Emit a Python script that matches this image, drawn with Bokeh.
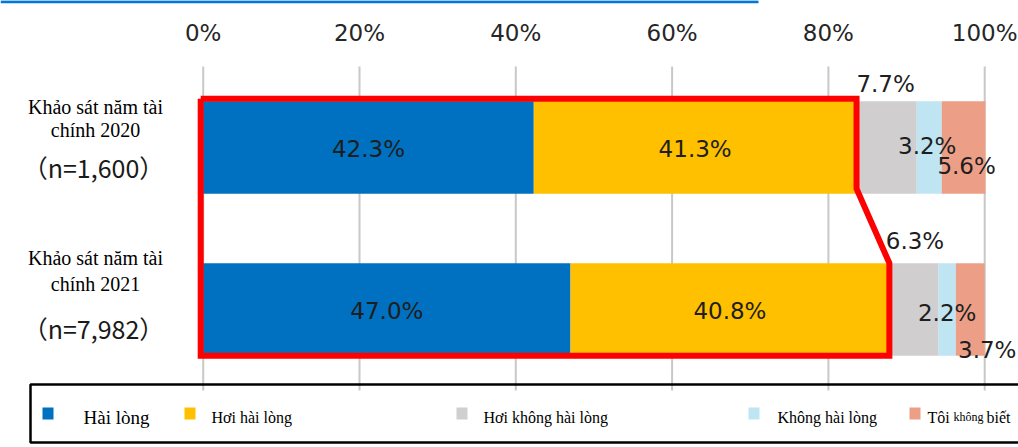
from bokeh.plotting import figure
from bokeh.models import Range1d, ColumnDataSource
from bokeh.core.properties import value
from bokeh.embed import file_html
from bokeh.resources import INLINE

# ---------------- data ----------------
series = ["Hài lòng", "Hơi hài lòng", "Hơi không hài lòng", "Không hài lòng", "Tôi không biết"]
colors = ["#0070C0", "#FFC000", "#D0CECE", "#BFE5F3", "#EC9E87"]
survey_2020 = [42.3, 41.3, 7.7, 3.2, 5.6]
survey_2021 = [47.0, 40.8, 6.3, 2.2, 3.7]
row_values = [survey_2020, survey_2021]
category_lines = [["Khảo sát năm tài", "chính 2020"], ["Khảo sát năm tài", "chính 2021"]]
sample_sizes = ["（n=1,600）", "（n=7,982）"]
tick_values = [0, 20, 40, 60, 80, 100]
tick_labels = ["0%", "20%", "40%", "60%", "80%", "100%"]
row_y = [1, 0]

# ---------------- layout helpers (pixel <-> data) ----------------
W, H = 1018, 447
X0PX, PPX = 202.7, 7.815      # pixel of 0 %, pixels per %
PPY = 162.0                   # pixels per row unit
Y_TOP = 1 + 146.9 / PPY       # data y at top of canvas
BAR_H = 92.5 / PPY

def xpx(px):
    return (px - X0PX) / PPX

def ypx(px):
    return Y_TOP - px / PPY

p = figure(width=W, height=H, output_backend="svg", toolbar_location=None,
           x_range=Range1d(xpx(0), xpx(W)), y_range=Range1d(ypx(H), ypx(0)),
           x_axis_location=None, y_axis_location=None, min_border=0)
p.outline_line_color = None
p.grid.visible = False
p.background_fill_color = "white"
p.border_fill_color = "white"

# top blue rule
p.segment(x0=[xpx(0)], x1=[xpx(758)], y0=[ypx(1.2)], y1=[ypx(1.2)],
          line_color="#0078D7", line_width=3)

# gridlines (from tick values)
p.segment(x0=tick_values, x1=tick_values, y0=[ypx(66)] * len(tick_values),
          y1=[ypx(390)] * len(tick_values), line_color="#C8C8C8", line_width=2)

# tick labels
p.text(x=tick_values, y=[ypx(32)] * len(tick_values), text=tick_labels,
       text_font=value("DejaVu Sans"), text_font_size="23px", text_color="#262626",
       text_align="center", text_baseline="middle")

# stacked bars
src = {"y": row_y}
for i, s in enumerate(series):
    src[s] = [row[i] for row in row_values]
p.hbar_stack(series, y="y", height=BAR_H, color=colors, line_color=None,
             source=ColumnDataSource(src))

# value labels (offsets in screen px)
label_dx = [[0, 0, -1, -2, 3], [0, 0, 1, 0, 17]]
label_dy = [[2, 2, -63, -1, 19], [2, 2, -68, 4, 41]]
lx, ly, lt, ox, oy = [], [], [], [], []
for r, vals in enumerate(row_values):
    left = 0.0
    for i, v in enumerate(vals):
        lx.append(left + v / 2)
        ly.append(row_y[r])
        lt.append(f"{v:.1f}%")
        ox.append(label_dx[r][i])
        oy.append(label_dy[r][i])
        left += v
p.text(x="x", y="y", text="t", x_offset="ox", y_offset="oy",
       source=ColumnDataSource(dict(x=lx, y=ly, t=lt, ox=ox, oy=oy)),
       text_font=value("DejaVu Sans"), text_font_size="23px", text_color="#1E1E1E",
       text_align="center", text_baseline="middle")

# red highlight outline around the first two segments
top_cum = survey_2020[0] + survey_2020[1]
bot_cum = survey_2021[0] + survey_2021[1]
y_top_bar_top = row_y[0] + BAR_H / 2
y_top_bar_bot = row_y[0] - BAR_H / 2
y_bot_bar_top = row_y[1] + BAR_H / 2
y_bot_bar_bot = row_y[1] - BAR_H / 2
pad_y = 2.5 / PPY
pad_x = 2.5 / PPX
ox_ = [-pad_x, top_cum, top_cum, bot_cum, bot_cum, -pad_x, -pad_x]
oy_ = [y_top_bar_top + pad_y, y_top_bar_top + pad_y, y_top_bar_bot + 5 / PPY,
       y_bot_bar_top, y_bot_bar_bot, y_bot_bar_bot, y_top_bar_top + pad_y]
p.line(ox_, oy_, line_color="#FF0000", line_width=6, line_join="miter")

# category labels
cat_offsets = [[-40, -17, 20], [-51, -25, 19]]
for r in range(2):
    yc_px = 146.9 + (row_y[0] - row_y[r]) * PPY
    for k, line in enumerate(category_lines[r]):
        p.text(x=[xpx(95)], y=[ypx(yc_px + cat_offsets[r][k])], text=[line],
               text_font=value("Liberation Serif"), text_font_size="20px",
               text_color="black", text_align="center", text_baseline="middle")
    p.text(x=[xpx(93)], y=[ypx(yc_px + cat_offsets[r][2])], text=[sample_sizes[r]],
           text_font=value("Noto Sans CJK JP"), text_font_size="25px",
           text_color="#1A1A1A", text_align="center", text_baseline="middle")

# legend box
p.quad(left=[xpx(30)], right=[xpx(1040)], top=[ypx(384)], bottom=[ypx(442)],
       fill_color=None, line_color="black", line_width=2.5)

leg_sq_x = [47.5, 189.5, 461.5, 753.5, 914.5]
leg_tx_x = [83, 211, 483, 777, 927]
leg_sizes = ["19px", "16px", "16px", "16px", "16px"]
p.rect(x=[xpx(v) for v in leg_sq_x], y=[ypx(413)] * 5, width=11, height=12,
       width_units="screen", height_units="screen", fill_color=colors, line_color=None)
for i, s in enumerate(series[:4]):
    p.text(x=[xpx(leg_tx_x[i])], y=[ypx(416.5)], text=[s],
           text_font=value("Liberation Serif"), text_font_size=leg_sizes[i],
           text_color="black", text_align="left", text_baseline="alphabetic")
# last legend label has mixed font sizes
last_parts = series[4].split(" ")  # ["Tôi", "không", "biết"]
part_x = [927, 953, 986]
part_sz = ["16px", "12px", "16px"]
for k, part in enumerate(last_parts):
    p.text(x=[xpx(part_x[k])], y=[ypx(416.5)], text=[part],
           text_font=value("Liberation Serif"), text_font_size=part_sz[k],
           text_color="black", text_align="left", text_baseline="alphabetic")

open("out.html", "w").write(file_html(p, INLINE))
